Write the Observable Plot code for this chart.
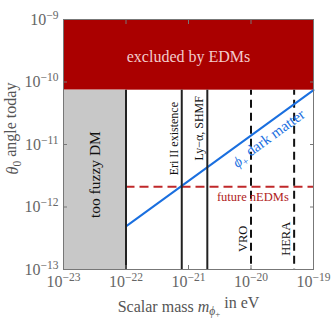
<!DOCTYPE html>
<html><head><meta charset="utf-8">
<script src="https://cdn.jsdelivr.net/npm/d3@7"></script>
<script src="https://cdn.jsdelivr.net/npm/@observablehq/plot@0.6"></script>
</head><body style="margin:0;background:#fff"><div id="chart"></div>
<script>
// Axis domains (eV and radians)
const massDomain = [1e-23, 1e-19];
const thetaDomain = [1e-13, 1e-9];
const xTicks = [1e-23, 1e-22, 1e-21, 1e-20, 1e-19];
const yTicks = [1e-13, 1e-12, 1e-11, 1e-10, 1e-9];
// Bounds
const edmBound = 7.4e-11;       // excluded by EDMs above this
const fuzzyMass = 1e-22;        // too fuzzy DM below this mass
const nEDMfuture = 2.1e-12;     // future nEDM sensitivity
// Vertical constraints
const solidMasses = [1e-22, 7.8e-22, 2e-21];
const solidLabels = ["", "Eri II existence", "Ly\u2212\u03b1, SHMF"];
const solidLabelTheta = [1e-11, 1.24e-11, 1.82e-11];
const dashedMasses = [1e-20, 4.9e-20];
const dashedLabels = ["VRO", "HERA"];
const dashedLabelTheta = 3.1e-13;
// Dark matter line
const dmMass = [1e-22, 1e-19];
const dmTheta = [4.9e-13, 7.4e-11];

const solid = solidMasses.map((m, i) => ({m, label: solidLabels[i], t: solidLabelTheta[i]}));
const dashed = dashedMasses.map((m, i) => ({m, label: dashedLabels[i]}));
const dm = dmMass.map((m, i) => ({m, t: dmTheta[i]}));

const serif = "Liberation Serif";

const chart = Plot.plot({
  width: 332, height: 322,
  marginLeft: 63, marginRight: 19, marginTop: 19, marginBottom: 53,
  style: {fontFamily: serif, fontSize: "16px", background: "#fff", color: "#555"},
  x: {type: "log", domain: massDomain},
  y: {type: "log", domain: thetaDomain},
  marks: [
    Plot.rect([{}], {x1: massDomain[0], x2: massDomain[1], y1: edmBound, y2: thetaDomain[1], fill: "#aa0000"}),
    Plot.rect([{}], {x1: massDomain[0], x2: fuzzyMass, y1: thetaDomain[0], y2: edmBound, fill: "#c8c8c8"}),
    Plot.ruleY([nEDMfuture], {x1: fuzzyMass, x2: massDomain[1], stroke: "#c0282a", strokeWidth: 2, strokeDasharray: "9,5"}),
    Plot.ruleX(dashed, {x: "m", y1: edmBound, y2: thetaDomain[0], stroke: "#111", strokeWidth: 2, strokeDasharray: "8,5", strokeDashoffset: 3}),
    Plot.line(dm, {x: "m", y: "t", stroke: "#1a6fdf", strokeWidth: 2}),
    Plot.ruleX(solid, {x: "m", y1: thetaDomain[0], y2: edmBound, stroke: "#222", strokeWidth: 2}),
    Plot.frame({stroke: "#777"}),
    Plot.axisX(xTicks, {anchor: "bottom", tickSize: -4, stroke: "#777", tickPadding: 10, fontSize: 16, fontFamily: serif, fill: "#666", label: null,
      tickFormat: d => "10^" + Math.round(Math.log10(d))}),
    Plot.axisX(xTicks, {anchor: "top", tickSize: -4, stroke: "#777", tickFormat: () => "", label: null}),
    Plot.axisY(yTicks, {anchor: "left", tickSize: -4, stroke: "#777", tickPadding: 9, fontSize: 16, fontFamily: serif, fill: "#666", label: null,
      tickFormat: d => "10^" + Math.round(Math.log10(d))}),
    Plot.axisY(yTicks, {anchor: "right", tickSize: -4, stroke: "#777", tickFormat: () => "", label: null}),
    Plot.text(["excluded by EDMs"], {x: 1e-21, y: 2.5e-10, fill: "#f2cccc", fontSize: 16, fontFamily: serif}),
    Plot.text(["too fuzzy DM"], {x: Math.sqrt(massDomain[0] * fuzzyMass), y: 3.3e-12, rotate: -90, fill: "#111", fontSize: 15.5, fontFamily: serif}),
    Plot.text(solid.slice(1), {x: "m", y: "t", text: "label", rotate: -90, dx: -8, fill: "#111", fontSize: 12, fontFamily: serif}),
    Plot.text(dashed, {x: "m", y: dashedLabelTheta, text: "label", rotate: -90, dx: -8, fill: "#111", fontSize: 12.5, fontFamily: serif}),
    Plot.text(["future nEDMs"], {x: 1.07e-20, y: nEDMfuture, dy: 10, fill: "#b01c1c", fontSize: 12.5, fontFamily: serif}),
    Plot.text(["DMLABEL"], {x: 1.75e-20, y: 1.42e-11, dx: 3, dy: 4, rotate: -36, fill: "#1a6fdf", fontSize: 15, fontFamily: serif}),
    Plot.text(["XLABEL"], {frameAnchor: "bottom", dy: 42, textAnchor: "middle", fill: "#555", fontSize: 16, fontFamily: serif}),
    Plot.text(["YLABEL"], {frameAnchor: "left", textAnchor: "middle", dx: -51, dy: -16, rotate: -90, fill: "#555", fontSize: 16, fontFamily: serif})
  ]
});

const svg = d3.select(chart);
// Render exponents as raised superscripts
svg.selectAll("g[aria-label$='tick label'] text").each(function() {
  const s = this.textContent;
  if (!s.startsWith("10^")) return;
  const exp = s.slice(3).replace("-", "\u2212");
  const t = d3.select(this);
  t.text("");
  t.append("tspan").text("10");
  t.append("tspan").attr("dy", "-0.5em").attr("font-size", "0.72em").text(exp);
});
// Rich text labels (math symbols in italic with subscripts)
svg.selectAll("text").each(function() {
  const t = d3.select(this);
  const s = this.textContent;
  if (s === "XLABEL") {
    t.text("");
    t.append("tspan").text("Scalar mass ");
    t.append("tspan").attr("font-style", "italic").text("m");
    t.append("tspan").attr("font-style", "italic").attr("font-size", "0.72em").attr("dy", "0.3em").text("\u03d5");
    t.append("tspan").attr("font-size", "0.55em").attr("dy", "0.25em").text("+");
    t.append("tspan").attr("dy", "-0.55em").text(" in eV");
  } else if (s === "YLABEL") {
    t.text("");
    t.append("tspan").attr("font-style", "italic").text("\u03b8");
    t.append("tspan").attr("font-size", "0.72em").attr("dy", "0.3em").text("0");
    t.append("tspan").attr("dy", "-0.3em").text(" angle today");
  } else if (s === "DMLABEL") {
    t.text("");
    t.append("tspan").attr("font-style", "italic").text("\u03d5");
    t.append("tspan").attr("font-size", "0.7em").attr("dy", "0.3em").text("+");
    t.append("tspan").attr("dy", "-0.3em").text(" dark matter");
  }
});
document.getElementById("chart").appendChild(chart);
</script></body></html>
